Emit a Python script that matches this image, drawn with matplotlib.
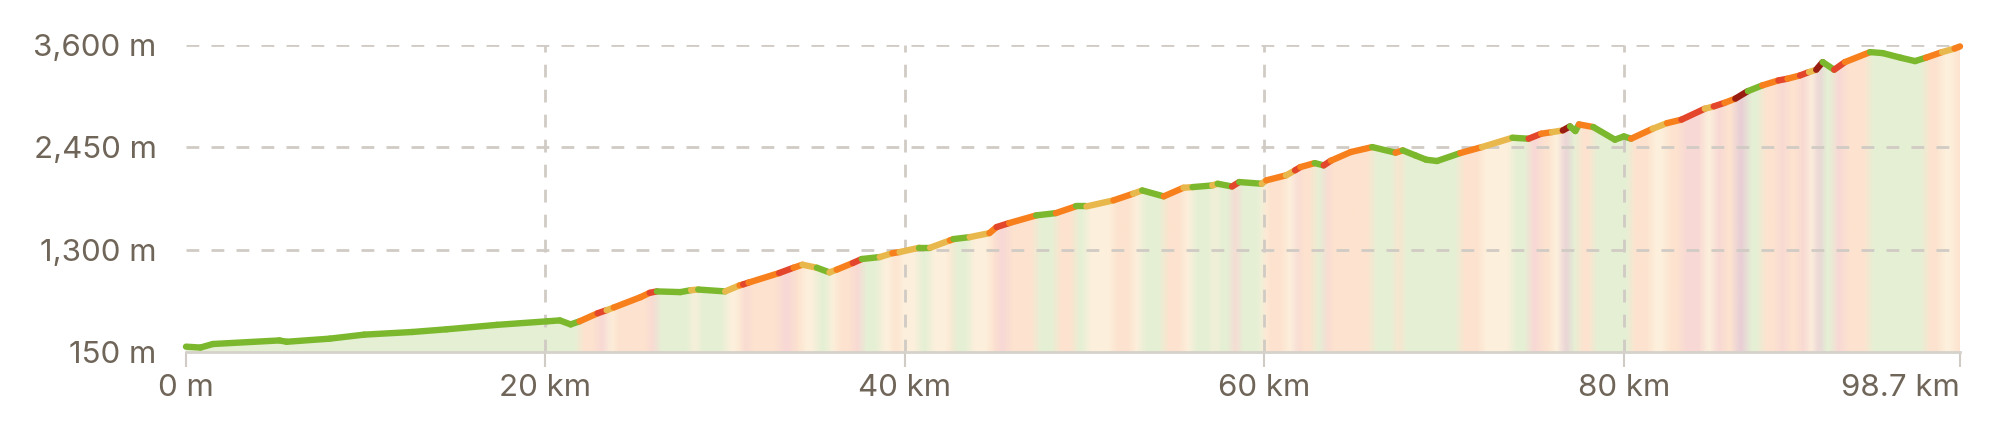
import numpy as np
import matplotlib.pyplot as plt
from matplotlib.collections import LineCollection
from matplotlib.patches import Polygon
from matplotlib.colors import to_rgb

# ---------------------------------------------------------------------------
# Elevation profile (km, m) and grade class of the segment starting at each point
# g = flat / downhill, y = gentle, o = moderate, r = steep, d = very steep

dist_km = [0.0, 0.8, 1.5, 5.2, 5.6, 8.0, 9.9, 12.6, 14.5, 17.3,
           20.1, 20.8, 21.4, 21.9, 22.9, 23.4, 23.8, 25.3, 25.8, 26.2,
           27.5, 28.1, 28.5, 30.0, 30.8, 31.0, 31.3, 33.0, 33.8, 34.3,
           35.1, 35.8, 36.2, 37.1, 37.6, 38.6, 39.3, 39.7, 40.8, 41.4,
           42.5, 42.7, 43.6, 44.7, 45.1, 45.8, 47.3, 48.4, 49.5, 50.1,
           51.6, 52.7, 53.2, 54.4, 55.5, 56.0, 57.1, 57.4, 58.2, 58.6,
           59.85, 60.1, 61.2, 61.7, 62.0, 62.8, 63.3, 63.7, 64.8, 66.0,
           67.3, 67.7, 68.4, 69.0, 69.6, 70.9, 72.1, 73.8, 74.7, 75.4,
           76.0, 76.6, 77.0, 77.3, 77.5, 78.3, 79.5, 80.0, 80.4, 81.6,
           82.4, 83.2, 84.5, 85.0, 85.6, 86.2, 86.9, 87.7, 88.6, 89.1,
           89.8, 90.3, 90.7, 91.06, 91.7, 92.3, 93.7, 94.4, 95.4, 96.2,
           96.8, 97.7, 98.4, 98.7]
elev_m = [210, 200, 240, 280, 265, 300, 345, 375, 405, 455,
          495, 505, 460, 495, 585, 620, 650, 767, 815, 831,
          823, 845, 852, 831, 899, 910, 930, 1037, 1097, 1131,
          1097, 1045, 1075, 1150, 1195, 1217, 1260, 1273, 1322, 1322,
          1404, 1419, 1441, 1486, 1554, 1599, 1685, 1711, 1786, 1786,
          1854, 1929, 1966, 1899, 1996, 2003, 2022, 2041, 2010, 2060,
          2041, 2079, 2135, 2191, 2228, 2273, 2247, 2300, 2397, 2453,
          2390, 2416, 2359, 2311, 2296, 2386, 2453, 2558, 2547, 2603,
          2621, 2640, 2685, 2633, 2708, 2678, 2536, 2573, 2547, 2659,
          2722, 2761, 2884, 2910, 2950, 2997, 3082, 3146, 3202, 3221,
          3258, 3296, 3322, 3408, 3322, 3408, 3520, 3509, 3457, 3419,
          3457, 3520, 3560, 3584]
grade = ["g", "g", "g", "g", "g", "g", "g", "g", "g", "g",
         "g", "g", "g", "o", "r", "y", "o", "o", "r", "g",
         "g", "y", "g", "y", "o", "r", "o", "r", "o", "y",
         "g", "y", "o", "r", "g", "y", "o", "y", "g", "y",
         "o", "g", "y", "o", "r", "o", "g", "o", "g", "y",
         "o", "y", "g", "o", "y", "g", "y", "g", "r", "g",
         "y", "o", "y", "r", "o", "g", "r", "o", "o", "g",
         "o", "g", "g", "g", "g", "o", "y", "g", "r", "o",
         "y", "d", "g", "g", "o", "g", "g", "g", "o", "y",
         "o", "r", "y", "r", "o", "d", "g", "o", "r", "o",
         "r", "y", "d", "g", "r", "o", "g", "g", "g", "g",
         "o", "y", "o", "o"]

y_ticks = [150, 1300, 2450, 3600]
y_labels = ["150 m", "1,300 m", "2,450 m", "3,600 m"]
x_ticks = [0, 20, 40, 60, 80, 98.7]
x_labels = ["0 m", "20 km", "40 km", "60 km", "80 km", "98.7 km"]

LINE = {"g": "#7cb82e", "y": "#e8b84c", "o": "#f7801c", "r": "#e4462b", "d": "#9a1d12"}
FILL = {"g": "#e5f0d4", "y": "#fcf0dc", "o": "#fde3cf", "r": "#f8d9d4", "d": "#e9d0d6"}
TEXT = "#6f6558"
GRID = "#d0cbc4"

km = np.array(dist_km)
ele = np.array(elev_m, dtype=float)

fig = plt.figure(figsize=(19.93, 4.24), dpi=100)
ax = fig.add_axes([186 / 1993, 72 / 424, 1774 / 1993, 307 / 424])
ax.set_xlim(0, 98.7)
ax.set_ylim(150, 3600)

# ---------------------------------------------------------------------------
# Background bands under the profile (soft transitions between grade classes)

cols = np.linspace(0, 98.7, 1600)
idx = np.clip(np.searchsorted(km, cols, side="right") - 1, 0, len(grade) - 1)
rgb = np.array([to_rgb(FILL[grade[i]]) for i in idx])
kern = np.ones(9) / 9
rgb = np.stack([np.convolve(np.pad(rgb[:, c], 4, mode="edge"), kern, mode="valid")
                for c in range(3)], axis=1)
im = ax.imshow(rgb[np.newaxis, :, :], extent=(0, 98.7, 150, 3600),
               aspect="auto", interpolation="bilinear", zorder=1)
poly = Polygon(np.column_stack([np.r_[km, km[-1], km[0]], np.r_[ele, 150, 150]]),
               closed=True, transform=ax.transData, facecolor="none", edgecolor="none")
ax.add_patch(poly)
im.set_clip_path(poly)

# ---------------------------------------------------------------------------
# Grid

dash = (0, (4.6, 4.4))
for yv in y_ticks[1:]:
    ax.axhline(yv, color=GRID, lw=2, ls=dash, zorder=2)
for xv in x_ticks[1:-1]:
    ax.axvline(xv, color=GRID, lw=2, ls=dash, zorder=2)

# ---------------------------------------------------------------------------
# Profile line coloured by grade

pts = np.column_stack([km, ele])
segs = np.stack([pts[:-1], pts[1:]], axis=1)
lc = LineCollection(segs, colors=[LINE[g] for g in grade[:len(segs)]],
                    linewidths=4.6, capstyle="round", joinstyle="round",
                    zorder=3, clip_on=False)
ax.add_collection(lc)

# ---------------------------------------------------------------------------
# Axes styling

for s in ["top", "right", "left"]:
    ax.spines[s].set_visible(False)
ax.spines["bottom"].set_color("#d5d1cb")
ax.spines["bottom"].set_linewidth(2)
ax.spines["bottom"].set_zorder(2.5)

font = dict(family=["Inter", "DejaVu Sans"], size=22.5, color=TEXT)
ax.set_yticks(y_ticks)
ax.set_yticklabels(y_labels, **font)
ax.tick_params(axis="y", length=0, pad=21)
ax.set_xticks(x_ticks)
ax.set_xticklabels(x_labels, **font)
ax.tick_params(axis="x", length=11, width=1.5, color=GRID, pad=5)
ax.get_xticklabels()[-1].set_ha("right")

fig.savefig("out.png", dpi=100)
